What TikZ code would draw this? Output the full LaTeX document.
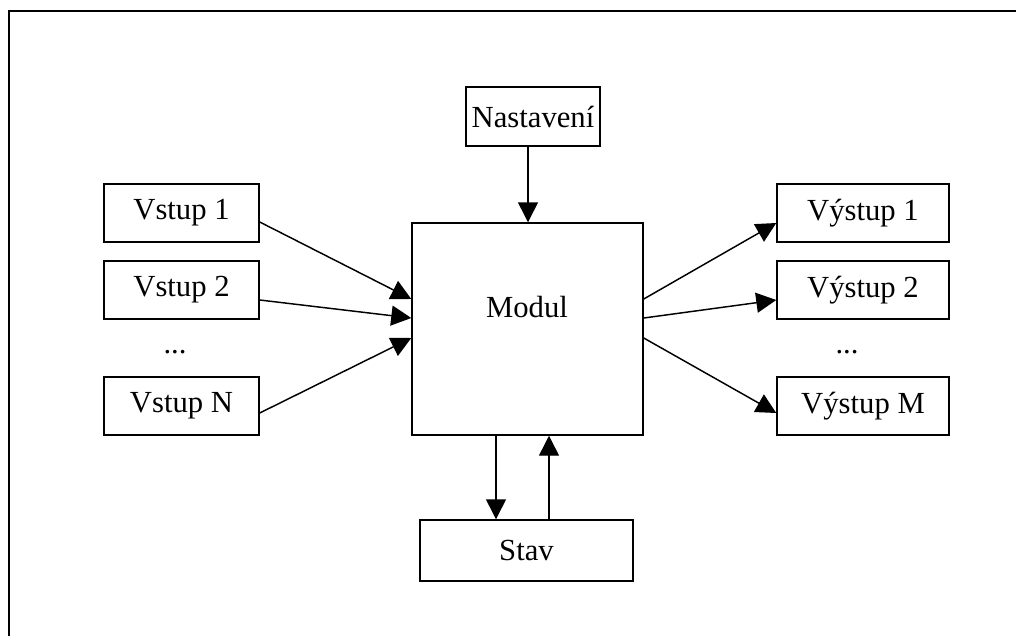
\documentclass[tikz,border=0pt]{standalone}
\usepackage{fontspec}
\setmainfont{Liberation Serif}
\usetikzlibrary{arrows.meta,calc}
\begin{document}
\begin{tikzpicture}[x=0.75pt,y=-0.75pt,
  box/.style={draw,line width=1.1pt,rectangle,inner sep=0pt,
    font=\fontsize{23}{28}\selectfont},
  conn/.style={line width=1.1pt,-{Triangle[length=15pt,width=15pt]}},
  txt/.style={inner sep=0pt,font=\fontsize{23}{28}\selectfont}]
\useasboundingbox (0,0) rectangle (1016,636);
% outer frame
\draw[line width=1.6pt] (9,636) -- (9,11) -- (1016,11);

% inputs
\node[box,minimum width=116.25pt,minimum height=43.5pt] (v1) at (181.5,213) {Vstup 1};
\node[box,minimum width=116.25pt,minimum height=43.5pt] (v2) at (181.5,290) {Vstup 2};
\node[txt] (vd) at (175,352) {...};
\node[box,minimum width=116.25pt,minimum height=43.5pt] (vn) at (181.5,406) {Vstup N};

% outputs
\node[box,minimum width=129pt,minimum height=43.5pt] (w1) at (863,213) {Výstup 1};
\node[box,minimum width=129pt,minimum height=43.5pt] (w2) at (863,290) {Výstup 2};
\node[txt] (wd) at (847,352) {...};
\node[box,minimum width=129pt,minimum height=43.5pt] (wm) at (863,406) {Výstup M};

% module, settings, state
\node[box,minimum width=173.25pt,minimum height=159pt] (modul) at (527.5,329) {};
\node[txt] (modullabel) at (527,307) {Modul};
\node[box,minimum width=100.5pt,minimum height=44.25pt] (nast) at (533,116.5) {Nastavení};
\node[box,minimum width=159.75pt,minimum height=45.75pt] (stav) at (526.5,550.5) {Stav};

% connectors
\draw[conn] ($(v1.east)+(0,9)$) -- ($(modul.west)+(0,-30)$);
\draw[conn] ($(v2.east)+(0,10)$) -- ($(modul.west)+(0,-11)$);
\draw[conn] ($(vn.east)+(0,7)$) -- ($(modul.west)+(0,9)$);

\draw[conn] ($(modul.east)+(0,-30)$) -- ($(w1.west)+(0,10)$);
\draw[conn] ($(modul.east)+(0,-11)$) -- ($(w2.west)+(0,10)$);
\draw[conn] ($(modul.east)+(0,9)$) -- ($(wm.west)+(0,7)$);

\draw[conn] ($(nast.south)+(-5,0)$) -- ($(modul.north)+(0.5,0)$);
\draw[conn] ($(modul.south)+(-31.5,0)$) -- ($(stav.north)+(-30.5,0)$);
\draw[conn] ($(stav.north)+(22.5,0)$) -- ($(modul.south)+(21.5,0)$);
\end{tikzpicture}
\end{document}
